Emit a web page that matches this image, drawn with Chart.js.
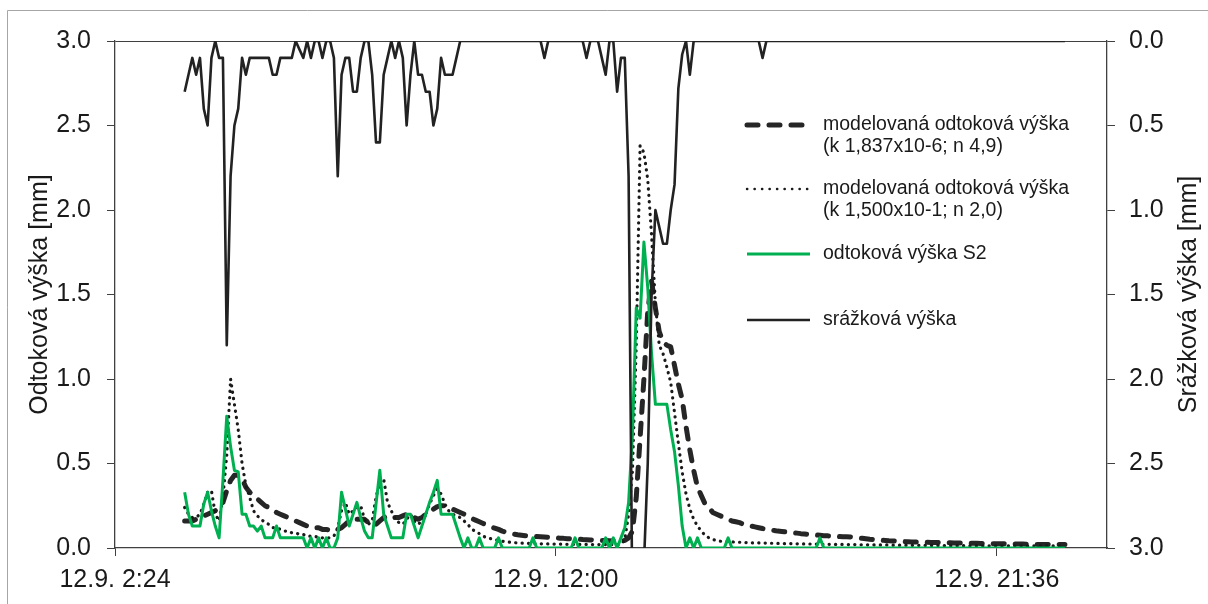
<!DOCTYPE html>
<html>
<head>
<meta charset="utf-8">
<script src="https://cdn.jsdelivr.net/npm/chart.js@4.4.1/dist/chart.umd.min.js"></script>
<style>
  html, body { margin: 0; padding: 0; background: #fff; }
  #wrap { width: 1208px; height: 604px; }
</style>
</head>
<body>
<div id="wrap"><canvas id="graf" width="1208" height="604"></canvas></div>
<script>
// casova osa: hodnoty po 5 minutach od 12.9. 3:55 (x v hodinach)
const casStart = 3 + 55 / 60;
const casKrok = 5 / 60;

// osa x: popisky
const xTickValues = [2.4, 12, 21.6];
const xTickLabels = ['12.9. 2:24', '12.9. 12:00', '12.9. 21:36'];

// srazkova vyska [mm] (prava osa, obracena)
const srazka = [
  0.3, 0.2, 0.1, 0.2, 0.1, 0.4, 0.5, 0.1, 0, 0.1, 0.1, 1.8,
  0.8, 0.5, 0.4, 0.1, 0.2, 0.1, 0.1, 0.1, 0.1, 0.1, 0.1, 0.2,
  0.2, 0.1, 0.1, 0.1, 0.1, 0, 0.05, 0.1, 0, 0.1, 0, 0,
  0.1, 0, 0, 0.1, 0.8, 0.2, 0.1, 0.1, 0.3, 0.3, 0.1, 0,
  0, 0.2, 0.6, 0.6, 0.2, 0.1, 0, 0.1, 0, 0.1, 0.5, 0.2,
  0, 0.2, 0.2, 0.3, 0.3, 0.5, 0.4, 0.1, 0.2, 0.2, 0.2, 0.1,
  0, 0, 0, 0, 0, 0, 0, 0, 0, 0, 0, 0,
  0, 0, 0, 0, 0, 0, 0, 0, 0, 0, 0.1, 0,
  0, 0, 0, 0, 0, 0, 0, 0, 0, 0.1, 0, 0,
  0, 0.1, 0.2, 0, 0, 0.3, 0.1, 0.1, 0.8, 3.4, 3.4, 3.2,
  3.1, 2.5, 1.5, 1.0, 1.1, 1.2, 1.2, 1.0, 0.85, 0.28, 0.08, 0,
  0.2, 0, 0, 0, 0, 0, 0, 0, 0, 0, 0, 0,
  0, 0, 0, 0, 0, 0, 0, 0.1, 0, 0, 0, 0,
  0, 0, 0, 0, 0, 0, 0, 0, 0, 0, 0, 0,
  0, 0, 0, 0, 0, 0, 0, 0, 0, 0, 0, 0,
  0, 0, 0, 0, 0, 0, 0, 0, 0, 0, 0, 0,
  0, 0, 0, 0, 0, 0, 0, 0, 0, 0, 0, 0,
  0, 0, 0, 0, 0, 0, 0, 0, 0, 0, 0, 0,
  0, 0, 0, 0, 0, 0, 0, 0, 0, 0, 0, 0,
  0, 0, 0
];

// namerena odtokova vyska S2 [mm]
const odtokS2 = [
  0.33, 0.2, 0.13, 0.13, 0.13, 0.26, 0.33, 0.22, 0.13, 0.06, 0.4, 0.78,
  0.6, 0.46, 0.45, 0.2, 0.2, 0.13, 0.13, 0.1, 0.13, 0.06, 0.06, 0.06,
  0.13, 0.06, 0.06, 0.06, 0.06, 0.06, 0.06, 0.06, 0, 0.06, 0, 0.06,
  0, 0.06, 0, 0, 0.06, 0.33, 0.23, 0.13, 0.2, 0.27, 0.18, 0.1,
  0.06, 0.06, 0.26, 0.46, 0.2, 0.13, 0.06, 0.06, 0.06, 0.06, 0.2, 0.2,
  0.13, 0.06, 0.13, 0.2, 0.27, 0.33, 0.4, 0.2, 0.2, 0.2, 0.2, 0.13,
  0.06, 0, 0.06, 0, 0, 0.06, 0, 0, 0, 0, 0.06, 0,
  0, 0, 0, 0, 0, 0, 0, 0.06, 0, 0, 0, 0,
  0, 0, 0, 0, 0, 0, 0.06, 0, 0, 0, 0, 0,
  0, 0, 0.06, 0, 0.06, 0, 0.06, 0.12, 0.27, 0.67, 1.42, 1.36,
  1.81, 1.54, 1.15, 0.85, 0.85, 0.85, 0.85, 0.7, 0.57, 0.37, 0.13, 0,
  0.06, 0, 0.06, 0, 0, 0, 0, 0, 0, 0, 0.06, 0,
  0, 0, 0, 0, 0, 0, 0, 0, 0, 0, 0, 0,
  0, 0, 0, 0, 0, 0, 0, 0, 0, 0, 0.06, 0,
  0, 0, 0, 0, 0, 0, 0, 0, 0, 0, 0, 0,
  0, 0, 0, 0, 0, 0, 0, 0, 0, 0, 0, 0,
  0, 0, 0, 0, 0, 0, 0, 0, 0, 0, 0, 0,
  0, 0, 0, 0, 0, 0, 0, 0, 0, 0, 0, 0,
  0, 0, 0, 0, 0, 0, 0, 0, 0, 0, 0, 0,
  0, 0, 0
];

// modelovana odtokova vyska (k 1,500x10-1; n 2,0) - teckovane
const modelB = [
  0.24, 0.2, 0.18, 0.18, 0.2, 0.26, 0.33, 0.34, 0.2, 0.16, 0.3, 0.55,
  1.0, 0.85, 0.7, 0.5, 0.37, 0.3, 0.22, 0.19, 0.17, 0.15, 0.14, 0.12,
  0.12, 0.11, 0.1, 0.1, 0.09, 0.09, 0.08, 0.08, 0.07, 0.07, 0.07, 0.06,
  0.06, 0.06, 0.06, 0.07, 0.12, 0.22, 0.27, 0.2, 0.22, 0.24, 0.25, 0.17,
  0.14, 0.16, 0.3, 0.39, 0.41, 0.27, 0.22, 0.17, 0.15, 0.14, 0.17, 0.2,
  0.16, 0.14, 0.16, 0.2, 0.26, 0.31, 0.35, 0.32, 0.26, 0.22, 0.2, 0.19,
  0.18, 0.16, 0.14, 0.11, 0.1, 0.085, 0.07, 0.06, 0.055, 0.05, 0.045, 0.04,
  0.037, 0.034, 0.032, 0.03, 0.029, 0.028, 0.027, 0.026, 0.026, 0.025, 0.025, 0.024,
  0.024, 0.023, 0.023, 0.022, 0.022, 0.022, 0.021, 0.021, 0.021, 0.021, 0.02, 0.02,
  0.02, 0.02, 0.02, 0.02, 0.02, 0.02, 0.02, 0.05, 0.2, 0.45, 1.2, 2.38,
  2.34, 2.18, 1.85, 1.45, 1.2, 1.15, 1.07, 0.98, 0.8, 0.62, 0.45, 0.32,
  0.23, 0.17, 0.13, 0.1, 0.075, 0.06, 0.05, 0.045, 0.04, 0.038, 0.037, 0.036,
  0.035, 0.034, 0.033, 0.032, 0.031, 0.03, 0.03, 0.029, 0.029, 0.028, 0.028, 0.027,
  0.027, 0.026, 0.026, 0.025, 0.025, 0.024, 0.024, 0.024, 0.023, 0.023, 0.023, 0.022,
  0.022, 0.022, 0.021, 0.021, 0.021, 0.02, 0.02, 0.02, 0.02, 0.019, 0.019, 0.019,
  0.019, 0.018, 0.018, 0.018, 0.018, 0.017, 0.017, 0.017, 0.017, 0.016, 0.016, 0.016,
  0.016, 0.016, 0.015, 0.015, 0.015, 0.015, 0.015, 0.014, 0.014, 0.014, 0.014, 0.014,
  0.014, 0.013, 0.013, 0.013, 0.013, 0.013, 0.013, 0.013, 0.013, 0.013, 0.013, 0.013,
  0.013, 0.013, 0.013, 0.012, 0.012, 0.012, 0.012, 0.012, 0.012, 0.012, 0.012, 0.012,
  0.012, 0.012, 0.012
];

// modelovana odtokova vyska (k 1,837x10-6; n 4,9) - carkovane
const modelA = [
  0.16, 0.16, 0.16, 0.17, 0.18, 0.19, 0.2, 0.21, 0.22, 0.24, 0.27, 0.34,
  0.4, 0.43, 0.43, 0.41, 0.36, 0.33, 0.31, 0.29, 0.27, 0.25, 0.24, 0.23,
  0.21, 0.2, 0.19, 0.18, 0.17, 0.16, 0.15, 0.14, 0.13, 0.13, 0.12, 0.12,
  0.11, 0.11, 0.105, 0.105, 0.11, 0.12, 0.14, 0.16, 0.17, 0.17, 0.17, 0.17,
  0.15, 0.13, 0.14, 0.16, 0.18, 0.19, 0.18, 0.18, 0.18, 0.19, 0.2, 0.2,
  0.18, 0.17, 0.18, 0.2, 0.21, 0.23, 0.245, 0.25, 0.25, 0.24, 0.23, 0.22,
  0.21, 0.2, 0.19, 0.175, 0.165, 0.155, 0.145, 0.135, 0.125, 0.118, 0.11, 0.1,
  0.093, 0.087, 0.082, 0.078, 0.075, 0.072, 0.07, 0.069, 0.068, 0.067, 0.065, 0.063,
  0.062, 0.06, 0.058, 0.057, 0.055, 0.054, 0.053, 0.052, 0.05, 0.049, 0.048, 0.047,
  0.046, 0.045, 0.044, 0.043, 0.042, 0.041, 0.041, 0.045, 0.06, 0.1, 0.3, 0.65,
  1.0, 1.4, 1.58, 1.42, 1.28, 1.22, 1.2, 1.19, 1.08, 0.97, 0.88, 0.72,
  0.58, 0.46, 0.36, 0.31, 0.26, 0.24, 0.21, 0.2, 0.19, 0.18, 0.17, 0.16,
  0.155, 0.15, 0.14, 0.135, 0.13, 0.125, 0.12, 0.115, 0.11, 0.107, 0.104, 0.1,
  0.098, 0.095, 0.093, 0.09, 0.088, 0.085, 0.083, 0.08, 0.078, 0.077, 0.075, 0.073,
  0.072, 0.07, 0.069, 0.068, 0.067, 0.066, 0.065, 0.062, 0.06, 0.058, 0.055, 0.052,
  0.05, 0.048, 0.046, 0.045, 0.043, 0.042, 0.04, 0.039, 0.038, 0.037, 0.036, 0.035,
  0.035, 0.034, 0.034, 0.033, 0.033, 0.032, 0.032, 0.031, 0.031, 0.03, 0.03, 0.03,
  0.029, 0.029, 0.028, 0.028, 0.027, 0.027, 0.026, 0.026, 0.025, 0.025, 0.025, 0.024,
  0.024, 0.023, 0.023, 0.023, 0.022, 0.022, 0.022, 0.021, 0.021, 0.021, 0.02, 0.02,
  0.02, 0.02, 0.02
];

const legendaTexty = [
  ['modelovaná odtoková výška', '(k 1,837x10-6; n 4,9)'],
  ['modelovaná odtoková výška', '(k 1,500x10-1; n 2,0)'],
  ['odtoková výška S2'],
  ['srážková výška']
];

const barvaOsy = '#404040';
const pismoOsy = '"Liberation Sans Narrow", "Arial Narrow", sans-serif';
const pismo = '"Liberation Sans", Arial, sans-serif';

function body(hodnoty) {
  return hodnoty.map((v, i) => ({ x: casStart + i * casKrok, y: v }));
}

// ramecek a bile pozadi
const ramecekPlugin = {
  id: 'ramecek',
  beforeDraw(chart) {
    const ctx = chart.ctx;
    ctx.save();
    ctx.fillStyle = '#fff';
    ctx.fillRect(0, 0, chart.width, chart.height);
    ctx.strokeStyle = '#a6a6a6';
    ctx.lineWidth = 1;
    ctx.beginPath();
    ctx.moveTo(7.5, chart.height);
    ctx.lineTo(7.5, 10.5);
    ctx.lineTo(chart.width, 10.5);
    ctx.stroke();
    ctx.restore();
  }
};

// nazvy os (oba otocene o -90 stupnu)
const nazvyOsPlugin = {
  id: 'nazvyOs',
  afterDraw(chart) {
    const ctx = chart.ctx;
    const stredY = (chart.chartArea.top + chart.chartArea.bottom) / 2;
    ctx.save();
    ctx.font = '25px ' + pismo;
    ctx.fillStyle = '#1a1a1a';
    ctx.textAlign = 'center';
    ctx.textBaseline = 'middle';
    [[40, 'Odtoková výška [mm]'], [1189, 'Srážková výška [mm]']].forEach(([x, t]) => {
      ctx.save();
      ctx.translate(x, stredY);
      ctx.rotate(-Math.PI / 2);
      ctx.fillText(t, 0, 0);
      ctx.restore();
    });
    ctx.restore();
  }
};

// legenda uvnitr grafu
const legendaPlugin = {
  id: 'legenda',
  afterDraw(chart) {
    const ctx = chart.ctx;
    const poradi = [3, 2, 1, 0];
    const radky = [125, 189, 254, 320];
    ctx.save();
    ctx.font = '19.5px ' + pismo;
    ctx.fillStyle = '#1a1a1a';
    ctx.textBaseline = 'middle';
    poradi.forEach((di, i) => {
      const ds = chart.data.datasets[di];
      const y = radky[i];
      ctx.beginPath();
      ctx.strokeStyle = ds.borderColor;
      ctx.lineWidth = ds.legendWidth || ds.borderWidth;
      ctx.lineCap = ds.borderCapStyle || 'butt';
      ctx.setLineDash(ds.legendDash || []);
      ctx.moveTo(747, y);
      ctx.lineTo(810, y);
      ctx.stroke();
      ctx.setLineDash([]);
      legendaTexty[i].forEach((t, j) => ctx.fillText(t, 823, y + j * 22));
    });
    ctx.restore();
  }
};

new Chart(document.getElementById('graf'), {
  type: 'line',
  data: {
    datasets: [
      {
        label: 'srážková výška',
        data: body(srazka),
        yAxisID: 'y2',
        borderColor: '#222222',
        borderWidth: 2.6,
        borderJoinStyle: 'round'
      },
      {
        label: 'odtoková výška S2',
        data: body(odtokS2),
        yAxisID: 'y',
        borderColor: '#00b050',
        borderWidth: 3,
        borderJoinStyle: 'round'
      },
      {
        label: 'modelovaná odtoková výška (k 1,500x10-1; n 2,0)',
        data: body(modelB),
        yAxisID: 'y',
        borderColor: '#1a1a1a',
        borderWidth: 3.2,
        borderDash: [0.2, 6.2],
        borderCapStyle: 'round',
        legendWidth: 2.4,
        legendDash: [0.3, 7.2]
      },
      {
        label: 'modelovaná odtoková výška (k 1,837x10-6; n 4,9)',
        data: body(modelA),
        yAxisID: 'y',
        borderColor: '#262626',
        borderWidth: 5,
        borderDash: [11, 11],
        borderCapStyle: 'round',
        borderJoinStyle: 'round',
        legendDash: [11, 11]
      }
    ]
  },
  options: {
    responsive: false,
    animation: false,
    devicePixelRatio: 1,
    layout: { padding: { top: 41, left: 0, right: 0, bottom: 0 } },
    elements: { point: { radius: 0 }, line: { tension: 0 } },
    plugins: { legend: { display: false }, tooltip: { enabled: false } },
    scales: {
      x: {
        type: 'linear',
        min: 2.4,
        max: 24,
        afterBuildTicks: (osa) => { osa.ticks = xTickValues.map(v => ({ value: v })); },
        afterFit: (osa) => { osa.height = 56; },
        ticks: {
          autoSkip: false,
          maxRotation: 0,
          padding: 9,
          color: '#1a1a1a',
          font: { family: pismoOsy, size: 25 },
          callback: (v, i) => xTickLabels[i]
        },
        grid: { drawOnChartArea: false, tickLength: 8, color: barvaOsy, tickColor: barvaOsy },
        border: { color: barvaOsy, width: 1.3 }
      },
      y: {
        position: 'left',
        min: 0,
        max: 3,
        afterFit: (osa) => { osa.width = 115; },
        ticks: {
          stepSize: 0.5,
          padding: 16,
          color: '#1a1a1a',
          font: { family: pismoOsy, size: 25 },
          callback: (v) => v.toFixed(1)
        },
        grid: {
          drawOnChartArea: true,
          tickLength: 8,
          tickColor: barvaOsy,
          color: (c) => (c.tick && c.tick.value === 3 ? barvaOsy : 'rgba(0,0,0,0)')
        },
        border: { color: barvaOsy, width: 1.3 }
      },
      y2: {
        position: 'right',
        reverse: true,
        min: 0,
        max: 3,
        afterFit: (osa) => { osa.width = 101; },
        ticks: {
          stepSize: 0.5,
          padding: 14,
          color: '#1a1a1a',
          font: { family: pismoOsy, size: 25 },
          callback: (v) => v.toFixed(1)
        },
        grid: { drawOnChartArea: false, tickLength: 8, color: barvaOsy, tickColor: barvaOsy },
        border: { color: barvaOsy, width: 1.3 }
      }
    }
  },
  plugins: [ramecekPlugin, nazvyOsPlugin, legendaPlugin]
});
</script>
</body>
</html>
